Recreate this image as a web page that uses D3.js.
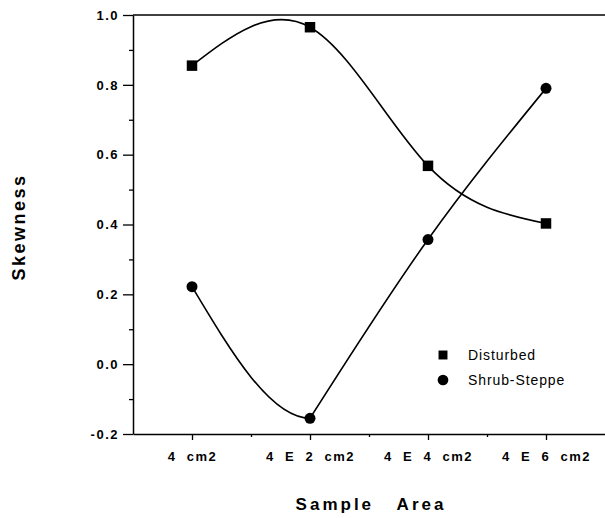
<!DOCTYPE html>
<html>
<head>
<meta charset="utf-8">
<script src="https://cdn.jsdelivr.net/npm/d3@7"></script>
<style>
  body { margin: 0; background: #fff; }
  text { font-family: "Liberation Sans", Arial, sans-serif; fill: #000; }
</style>
</head>
<body>
<svg id="chart" width="605" height="518"></svg>
<script>
// sample areas as powers of ten exponent (4 E n cm2)
var exponents = [0, 2, 4, 6];
var tickLabels = ['4  cm2', '4  E  2  cm2', '4  E  4  cm2', '4  E  6  cm2'];
var disturbed = [0.855, 0.965, 0.568, 0.403];
var shrubSteppe = [0.222, -0.155, 0.357, 0.79];
var yTicks = [-0.2, 0.0, 0.2, 0.4, 0.6, 0.8, 1.0];
var yMinorTicks = [-0.1, 0.1, 0.3, 0.5, 0.7, 0.9];

var svg = d3.select('#chart');

var width = 605,
    height = 518;

var margin = {
  top: 15,
  bottom: 84,
  left: 133,
  right: 0
};

// Scales
var xScale = d3.scaleLinear()
  .domain([-1, 7])
  .range([margin.left, width - margin.right]);

var yScale = d3.scaleLinear()
  .domain([-0.2, 1.0])
  .range([height - margin.bottom, margin.top]);

// top frame line
svg.append('line')
  .attr('x1', margin.left).attr('x2', width)
  .attr('y1', yScale(1.0)).attr('y2', yScale(1.0))
  .attr('stroke', '#000').attr('stroke-width', 1.5);

// Y axis, major and minor ticks
svg.append('g')
  .attr('transform', 'translate(' + margin.left + ',0)')
  .call(d3.axisLeft(yScale)
    .tickValues(yTicks)
    .tickFormat(function(d) { return d3.format('.1f')(d).replace('\u2212', '-'); })
    .tickSize(10)
    .tickSizeOuter(0)
    .tickPadding(4));

svg.append('g')
  .attr('transform', 'translate(' + margin.left + ',0)')
  .call(d3.axisLeft(yScale).tickValues(yMinorTicks).tickSize(4).tickSizeOuter(0).tickFormat(''))
  .select('.domain').remove();

// X axis, major and minor ticks
svg.append('g')
  .attr('transform', 'translate(0,' + (height - margin.bottom) + ')')
  .call(d3.axisBottom(xScale)
    .tickValues(exponents)
    .tickFormat(function(d, i) { return tickLabels[i]; })
    .tickSize(6)
    .tickSizeOuter(0)
    .tickPadding(12));

svg.append('g')
  .attr('transform', 'translate(0,' + (height - margin.bottom) + ')')
  .call(d3.axisBottom(xScale).tickValues([1, 3, 5]).tickSize(3).tickSizeOuter(0).tickFormat(''))
  .select('.domain').remove();

svg.selectAll('.domain').attr('stroke-width', 1.5);
svg.selectAll('.tick line').attr('stroke-width', 1.3);
svg.selectAll('.tick text')
  .style('font-size', '13px')
  .style('font-weight', 'bold')
  .style('letter-spacing', '1.5px')
  .style('white-space', 'pre');

// Axis titles
svg.append('text')
  .attr('transform', 'translate(25,227) rotate(-90)')
  .attr('text-anchor', 'middle')
  .style('font-size', '18px')
  .style('font-weight', 'bold')
  .style('letter-spacing', '2.5px')
  .text('Skewness');

svg.append('text')
  .attr('x', 371)
  .attr('y', 510)
  .attr('text-anchor', 'middle')
  .style('font-size', '17px')
  .style('font-weight', 'bold')
  .style('letter-spacing', '3px')
  .style('white-space', 'pre')
  .text('Sample   Area');

function toPoints(values) {
  return exponents.map(function(e, i) { return [e, values[i]]; });
}

function lineWith(curve) {
  return d3.line()
    .x(function(d) { return xScale(d[0]); })
    .y(function(d) { return yScale(d[1]); })
    .curve(curve);
}

var dPts = toPoints(disturbed);
var sPts = toPoints(shrubSteppe);

// Disturbed: one smooth spline
svg.append('path')
  .datum(dPts)
  .attr('d', lineWith(d3.curveNatural))
  .attr('fill', 'none')
  .attr('stroke', '#000')
  .attr('stroke-width', 1.6);

// Shrub-Steppe: hand-fitted look, with a corner at the minimum
svg.append('clipPath').attr('id', 'leftPart')
  .append('rect')
  .attr('x', 0).attr('y', 0)
  .attr('width', xScale(exponents[1])).attr('height', height);

svg.append('path')
  .datum(sPts.slice(0, 3))
  .attr('d', lineWith(d3.curveMonotoneX))
  .attr('clip-path', 'url(#leftPart)')
  .attr('fill', 'none')
  .attr('stroke', '#000')
  .attr('stroke-width', 1.6);

svg.append('path')
  .datum(sPts.slice(1))
  .attr('d', lineWith(d3.curveMonotoneX))
  .attr('fill', 'none')
  .attr('stroke', '#000')
  .attr('stroke-width', 1.6);

// Markers
svg.selectAll('.pt-square')
  .data(dPts)
  .enter()
  .append('path')
  .attr('class', 'pt-square')
  .attr('transform', function(d) { return 'translate(' + xScale(d[0]) + ',' + yScale(d[1]) + ')'; })
  .attr('d', d3.symbol().type(d3.symbolSquare).size(110))
  .attr('fill', '#000');

svg.selectAll('.pt-circle')
  .data(sPts)
  .enter()
  .append('path')
  .attr('class', 'pt-circle')
  .attr('transform', function(d) { return 'translate(' + xScale(d[0]) + ',' + yScale(d[1]) + ')'; })
  .attr('d', d3.symbol().type(d3.symbolCircle).size(95))
  .attr('fill', '#000');

// Legend
var legendItems = [
  { name: 'Disturbed', type: d3.symbolSquare, size: 80 },
  { name: 'Shrub-Steppe', type: d3.symbolCircle, size: 90 }
];
var legend = svg.append('g');
legendItems.forEach(function(s, i) {
  legend.append('path')
    .attr('transform', 'translate(443,' + (355 + i * 25) + ')')
    .attr('d', d3.symbol().type(s.type).size(s.size))
    .attr('fill', '#000');
  legend.append('text')
    .attr('x', 468)
    .attr('y', 355 + i * 25 + 5)
    .style('font-size', '14px')
    .style('letter-spacing', '0.9px')
    .text(s.name);
});
</script>
</body>
</html>
